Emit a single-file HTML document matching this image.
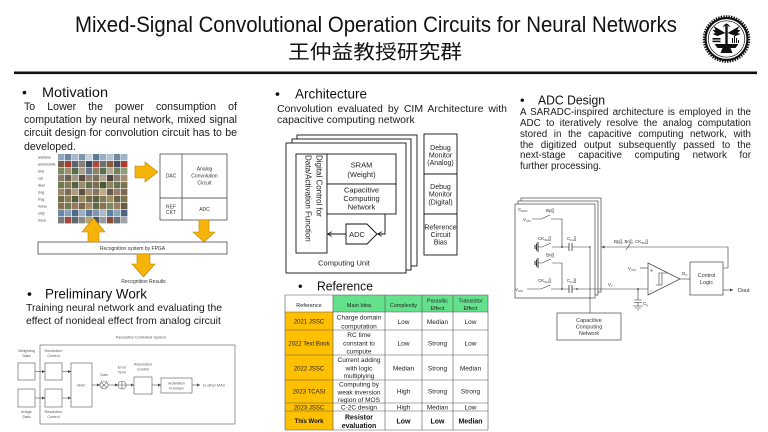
<!DOCTYPE html>
<html><head><meta charset="utf-8">
<style>
html,body{margin:0;padding:0;background:#fff;}
#c{position:relative;width:768px;height:432px;overflow:hidden;background:#fff;font-family:"Liberation Sans","Noto Sans CJK TC",sans-serif;color:#1a1a1a;}
svg{position:absolute;left:0;top:0;}
.p{position:absolute;}
.jl{text-align:justify;text-align-last:justify;}
</style></head>
<body><div id="c">
<svg width="768" height="432" viewBox="0 0 768 432" font-family="'Liberation Sans', sans-serif">
<defs>
<marker id="a" viewBox="0 0 6 6" refX="6" refY="3" markerWidth="3" markerHeight="3" orient="auto" markerUnits="userSpaceOnUse"><path d="M0,0 L6,3 L0,6 z" fill="#444"/></marker>
<marker id="o" viewBox="0 0 8 8" refX="7.5" refY="4" markerWidth="5" markerHeight="5" orient="auto" markerUnits="userSpaceOnUse"><path d="M0,0 L7.5,4 L0,8" fill="none" stroke="#111" stroke-width="1.2"/></marker>
</defs>

<!-- Title -->
<text x="75" y="32" font-size="22" fill="#111" textLength="602" lengthAdjust="spacingAndGlyphs">Mixed-Signal Convolutional Operation Circuits for Neural Networks</text>
<text x="288" y="58.5" font-size="19.5" fill="#111" font-family="'Noto Sans CJK TC', sans-serif" textLength="174" lengthAdjust="spacingAndGlyphs">王仲益教授研究群</text>
<rect x="14" y="71.5" width="743" height="2.6" fill="#111"/>

<!-- Logo -->
<g transform="translate(726.5,39)" fill="#111">
<circle r="22.8" fill="none" stroke="#111" stroke-width="2" stroke-dasharray="1.4 1.2"/>
<circle r="21" fill="none" stroke="#111" stroke-width="2.2"/>
<circle r="18.2" fill="none" stroke="#111" stroke-width="0.7"/>
<path d="M-12,5 H12 L9,9 H4 L6,14 H-6 L-4,9 H-9 Z"/>
<rect x="-1.2" y="-15" width="2.4" height="21"/>
<path d="M-1,-6 L-13,-13 L-11,-9 L-14,-9 L-11,-6 L-14,-5 L-9,-3 Z"/>
<path d="M1,-6 L13,-13 L11,-9 L14,-9 L11,-6 L14,-5 L9,-3 Z"/>
<rect x="-14" y="-1" width="8" height="1.6"/>
<rect x="-14" y="1.6" width="8" height="1.6"/>
<path d="M6,-1 V4 M8,-3 V4 M10,-1 V4 M12,1 V4" stroke="#111" stroke-width="1" fill="none"/>
<path d="M-3,-12 Q0,-18 3,-12" stroke="#111" stroke-width="1" fill="none"/>
</g>

<!-- Headings -->
<g fill="#111">
<text x="22" y="97" font-size="14">•</text>
<text x="42" y="97" font-size="14" textLength="66" lengthAdjust="spacingAndGlyphs">Motivation</text>
<text x="27" y="298.3" font-size="14">•</text>
<text x="45" y="298.3" font-size="14" textLength="102" lengthAdjust="spacingAndGlyphs">Preliminary Work</text>
<text x="275" y="98.3" font-size="14">•</text>
<text x="295" y="98.3" font-size="14" textLength="72" lengthAdjust="spacingAndGlyphs">Architecture</text>
<text x="298" y="290.7" font-size="13">•</text>
<text x="317" y="290.7" font-size="12.5" textLength="56" lengthAdjust="spacingAndGlyphs">Reference</text>
<text x="520" y="104.3" font-size="13">•</text>
<text x="538" y="104.3" font-size="12.5" textLength="67" lengthAdjust="spacingAndGlyphs">ADC Design</text>
</g>

<!-- Motivation diagram -->
<g font-size="3.6" fill="#444">
<text x="38" y="158.5">airplane</text>
<text x="38" y="165.5">automobile</text>
<text x="38" y="172.5">bird</text>
<text x="38" y="179.5">cat</text>
<text x="38" y="186.5">deer</text>
<text x="38" y="193.5">dog</text>
<text x="38" y="200.5">frog</text>
<text x="38" y="207.5">horse</text>
<text x="38" y="214.5">ship</text>
<text x="38" y="221.5">truck</text>
</g>
<g>
<rect x="58" y="154" width="6.4" height="6.4" fill="#8fa6bf"/><rect x="65" y="154" width="6.4" height="6.4" fill="#6d87a3"/><rect x="72" y="154" width="6.4" height="6.4" fill="#a9b9c9"/><rect x="79" y="154" width="6.4" height="6.4" fill="#7d95ad"/><rect x="86" y="154" width="6.4" height="6.4" fill="#c6d1db"/><rect x="93" y="154" width="6.4" height="6.4" fill="#5f7a96"/><rect x="100" y="154" width="6.4" height="6.4" fill="#98aec4"/><rect x="107" y="154" width="6.4" height="6.4" fill="#b5c3d0"/><rect x="114" y="154" width="6.4" height="6.4" fill="#7189a0"/><rect x="121" y="154" width="6.4" height="6.4" fill="#a0b4c8"/>
<rect x="58" y="161" width="6.4" height="6.4" fill="#7a5c4f"/><rect x="65" y="161" width="6.4" height="6.4" fill="#a33b30"/><rect x="72" y="161" width="6.4" height="6.4" fill="#5b6470"/><rect x="79" y="161" width="6.4" height="6.4" fill="#8a7f76"/><rect x="86" y="161" width="6.4" height="6.4" fill="#3e4a5a"/><rect x="93" y="161" width="6.4" height="6.4" fill="#b0463a"/><rect x="100" y="161" width="6.4" height="6.4" fill="#6f6f6f"/><rect x="107" y="161" width="6.4" height="6.4" fill="#8c5a3c"/><rect x="114" y="161" width="6.4" height="6.4" fill="#494f5c"/><rect x="121" y="161" width="6.4" height="6.4" fill="#b23a2f"/>
<rect x="58" y="168" width="6.4" height="6.4" fill="#7e8a5e"/><rect x="65" y="168" width="6.4" height="6.4" fill="#9a9172"/><rect x="72" y="168" width="6.4" height="6.4" fill="#5d6b4a"/><rect x="79" y="168" width="6.4" height="6.4" fill="#a7a08c"/><rect x="86" y="168" width="6.4" height="6.4" fill="#6a7a8c"/><rect x="93" y="168" width="6.4" height="6.4" fill="#8d8065"/><rect x="100" y="168" width="6.4" height="6.4" fill="#5b6f52"/><rect x="107" y="168" width="6.4" height="6.4" fill="#b2ab93"/><rect x="114" y="168" width="6.4" height="6.4" fill="#71805d"/><rect x="121" y="168" width="6.4" height="6.4" fill="#8e9c7a"/>
<rect x="58" y="175" width="6.4" height="6.4" fill="#8a7a68"/><rect x="65" y="175" width="6.4" height="6.4" fill="#6e6258"/><rect x="72" y="175" width="6.4" height="6.4" fill="#a49682"/><rect x="79" y="175" width="6.4" height="6.4" fill="#5a5048"/><rect x="86" y="175" width="6.4" height="6.4" fill="#917e6b"/><rect x="93" y="175" width="6.4" height="6.4" fill="#7b7060"/><rect x="100" y="175" width="6.4" height="6.4" fill="#b0a28e"/><rect x="107" y="175" width="6.4" height="6.4" fill="#4f463f"/><rect x="114" y="175" width="6.4" height="6.4" fill="#8a8070"/><rect x="121" y="175" width="6.4" height="6.4" fill="#a38d72"/>
<rect x="58" y="182" width="6.4" height="6.4" fill="#6e7a4e"/><rect x="65" y="182" width="6.4" height="6.4" fill="#8a7a58"/><rect x="72" y="182" width="6.4" height="6.4" fill="#55623f"/><rect x="79" y="182" width="6.4" height="6.4" fill="#9a8d6a"/><rect x="86" y="182" width="6.4" height="6.4" fill="#657049"/><rect x="93" y="182" width="6.4" height="6.4" fill="#7d6e50"/><rect x="100" y="182" width="6.4" height="6.4" fill="#4d5a38"/><rect x="107" y="182" width="6.4" height="6.4" fill="#8f8460"/><rect x="114" y="182" width="6.4" height="6.4" fill="#6a7550"/><rect x="121" y="182" width="6.4" height="6.4" fill="#7f7352"/>
<rect x="58" y="189" width="6.4" height="6.4" fill="#9a846a"/><rect x="65" y="189" width="6.4" height="6.4" fill="#7a6a58"/><rect x="72" y="189" width="6.4" height="6.4" fill="#b09a7e"/><rect x="79" y="189" width="6.4" height="6.4" fill="#5e5246"/><rect x="86" y="189" width="6.4" height="6.4" fill="#a48e72"/><rect x="93" y="189" width="6.4" height="6.4" fill="#857460"/><rect x="100" y="189" width="6.4" height="6.4" fill="#c0aa8a"/><rect x="107" y="189" width="6.4" height="6.4" fill="#6a5c4e"/><rect x="114" y="189" width="6.4" height="6.4" fill="#968068"/><rect x="121" y="189" width="6.4" height="6.4" fill="#7c6a56"/>
<rect x="58" y="196" width="6.4" height="6.4" fill="#6f6a48"/><rect x="65" y="196" width="6.4" height="6.4" fill="#8a7a52"/><rect x="72" y="196" width="6.4" height="6.4" fill="#5a5a3c"/><rect x="79" y="196" width="6.4" height="6.4" fill="#9a8a60"/><rect x="86" y="196" width="6.4" height="6.4" fill="#726a4a"/><rect x="93" y="196" width="6.4" height="6.4" fill="#5e6244"/><rect x="100" y="196" width="6.4" height="6.4" fill="#857a56"/><rect x="107" y="196" width="6.4" height="6.4" fill="#a0905e"/><rect x="114" y="196" width="6.4" height="6.4" fill="#6a6444"/><rect x="121" y="196" width="6.4" height="6.4" fill="#7e744e"/>
<rect x="58" y="203" width="6.4" height="6.4" fill="#8a6e50"/><rect x="65" y="203" width="6.4" height="6.4" fill="#6e7a52"/><rect x="72" y="203" width="6.4" height="6.4" fill="#9a7a5a"/><rect x="79" y="203" width="6.4" height="6.4" fill="#7a6a4a"/><rect x="86" y="203" width="6.4" height="6.4" fill="#a68a66"/><rect x="93" y="203" width="6.4" height="6.4" fill="#5e6a48"/><rect x="100" y="203" width="6.4" height="6.4" fill="#8e7252"/><rect x="107" y="203" width="6.4" height="6.4" fill="#7a8a5e"/><rect x="114" y="203" width="6.4" height="6.4" fill="#9c8060"/><rect x="121" y="203" width="6.4" height="6.4" fill="#6a5a42"/>
<rect x="58" y="210" width="6.4" height="6.4" fill="#6a86a8"/><rect x="65" y="210" width="6.4" height="6.4" fill="#8aa0b8"/><rect x="72" y="210" width="6.4" height="6.4" fill="#4e6a8a"/><rect x="79" y="210" width="6.4" height="6.4" fill="#9ab0c6"/><rect x="86" y="210" width="6.4" height="6.4" fill="#5a7898"/><rect x="93" y="210" width="6.4" height="6.4" fill="#7e96b0"/><rect x="100" y="210" width="6.4" height="6.4" fill="#a8bccc"/><rect x="107" y="210" width="6.4" height="6.4" fill="#62809e"/><rect x="114" y="210" width="6.4" height="6.4" fill="#8ca4bc"/><rect x="121" y="210" width="6.4" height="6.4" fill="#4a6482"/>
<rect x="58" y="217" width="6.4" height="6.4" fill="#7a7a7a"/><rect x="65" y="217" width="6.4" height="6.4" fill="#a04a3a"/><rect x="72" y="217" width="6.4" height="6.4" fill="#5e6670"/><rect x="79" y="217" width="6.4" height="6.4" fill="#8a8a84"/><rect x="86" y="217" width="6.4" height="6.4" fill="#b8a070"/><rect x="93" y="217" width="6.4" height="6.4" fill="#4e5660"/><rect x="100" y="217" width="6.4" height="6.4" fill="#9a9a96"/><rect x="107" y="217" width="6.4" height="6.4" fill="#8a4a38"/><rect x="114" y="217" width="6.4" height="6.4" fill="#6a7078"/><rect x="121" y="217" width="6.4" height="6.4" fill="#a0a4a8"/>
</g>
<g fill="none" stroke="#333" stroke-width="0.7">
<rect x="160" y="154" width="67" height="66"/>
<line x1="182" y1="154" x2="182" y2="220"/>
<line x1="160" y1="198" x2="227" y2="198"/>
<rect x="38" y="242" width="189" height="12"/>
</g>
<g font-size="5" fill="#333" text-anchor="middle">
<text x="171" y="177.7">DAC</text>
<text x="204.5" y="170.7">Analog</text>
<text x="204.5" y="177.5">Convolution</text>
<text x="204.5" y="184.5">Circuit</text>
<text x="171" y="208.3">REF</text>
<text x="171" y="213.8">CKT</text>
<text x="204.5" y="211">ADC</text>
<text x="132.5" y="250">Recognition system by FPGA</text>
<text x="143.5" y="283">Recognition Results</text>
</g>
<g fill="#f6b40a" stroke="#b98500" stroke-width="0.6">
<polygon points="135,166 145,166 145,162 158,172 145,182 145,178 135,178"/>
<polygon points="93.5,218 105,232 99,232 99,242 88,242 88,232 82,232"/>
<polygon points="199,220 209,220 209,232 215,232 204,242 193,232 199,232"/>
<polygon points="137,254 150,254 150,264 155,264 143.5,277 132,264 137,264"/>
</g>

<!-- Preliminary diagram -->
<g fill="none" stroke="#555" stroke-width="0.6">
<rect x="40" y="345" width="195" height="79"/>
<rect x="18" y="363" width="17" height="17"/>
<rect x="45" y="363" width="17" height="17"/>
<rect x="18" y="389" width="17" height="18"/>
<rect x="45" y="389" width="17" height="18"/>
<rect x="71" y="363" width="21" height="44"/>
<circle cx="104" cy="385" r="4"/>
<path d="M101.2,382.2 L106.8,387.8 M106.8,382.2 L101.2,387.8"/>
<circle cx="122" cy="385" r="4"/>
<path d="M118,385 H126 M122,381 V389"/>
<rect x="134" y="377" width="18" height="17"/>
<rect x="161" y="378" width="31" height="15"/>
<line x1="35" y1="371.5" x2="45" y2="371.5" marker-end="url(#a)"/>
<line x1="35" y1="398" x2="45" y2="398" marker-end="url(#a)"/>
<line x1="62" y1="371.5" x2="71" y2="371.5" marker-end="url(#a)"/>
<line x1="62" y1="398" x2="71" y2="398" marker-end="url(#a)"/>
<line x1="92" y1="385" x2="100" y2="385" marker-end="url(#a)"/>
<line x1="108" y1="385" x2="118" y2="385" marker-end="url(#a)"/>
<line x1="126" y1="385" x2="134" y2="385" marker-end="url(#a)"/>
<line x1="152" y1="385" x2="161" y2="385" marker-end="url(#a)"/>
<line x1="192" y1="385" x2="200" y2="385" marker-end="url(#a)"/>
</g>
<g font-size="3.8" fill="#555" text-anchor="middle">
<text x="141" y="338.5">Resolution Controlled System</text>
<text x="26.5" y="352">Weighting</text><text x="26.5" y="357">Data</text>
<text x="53.5" y="352">Resolution</text><text x="53.5" y="357">Control</text>
<text x="26.5" y="413">Image</text><text x="26.5" y="418">Data</text>
<text x="53.5" y="413">Resolution</text><text x="53.5" y="418">Control</text>
<text x="81.5" y="386.5">MAC</text>
<text x="104" y="376">Gain</text>
<text x="122" y="368.5">Error</text><text x="122" y="373.5">Term</text>
<text x="143" y="365.5">Resolution</text><text x="143" y="370.5">Control</text>
<text x="176.5" y="384.5">Activation</text><text x="176.5" y="389.5">Function</text>
<text x="203" y="386.5" text-anchor="start">to other MAC</text>
</g>

<!-- Architecture diagram -->
<g fill="#fff" stroke="#111" stroke-width="0.9">
<rect x="297" y="135" width="120" height="131"/>
<rect x="292" y="139" width="119" height="131"/>
<rect x="286" y="143" width="120" height="130"/>
<rect x="296" y="154" width="31" height="99"/>
<rect x="327" y="154" width="69" height="30"/>
<rect x="327" y="184" width="69" height="30"/>
<polygon points="346,224 367,224 377,234 367,244 346,244"/>
<rect x="424" y="134" width="33" height="40"/>
<rect x="424" y="174" width="33" height="40"/>
<rect x="424" y="214" width="33" height="41"/>
</g>
<g fill="none" stroke="#111" stroke-width="0.9">
<polyline points="385,214 385,234 377.5,234" marker-end="url(#o)"/>
<line x1="346" y1="234" x2="327.5" y2="234" marker-end="url(#o)"/>
</g>
<g font-size="7.5" fill="#222" text-anchor="middle">
<g transform="translate(311.5,203.5) rotate(90)" font-size="8" text-anchor="start">
<text x="-48.5" y="-5">Digital Control for</text>
<text x="-48.5" y="6">Data/Activation Function</text>
</g>
<text x="361.5" y="167.5">SRAM</text>
<text x="361.5" y="177">(Weight)</text>
<text x="361.5" y="192.5">Capacitive</text>
<text x="361.5" y="200.8">Computing</text>
<text x="361.5" y="209.5">Network</text>
<text x="357" y="236.8">ADC</text>
<text x="344" y="265.5">Computing Unit</text>
<g font-size="7">
<text x="440.5" y="150">Debug</text><text x="440.5" y="157.5">Monitor</text><text x="440.5" y="165">(Analog)</text>
<text x="440.5" y="189">Debug</text><text x="440.5" y="196.5">Monitor</text><text x="440.5" y="204.5">(Digital)</text>
<text x="440.5" y="229.5">Reference</text><text x="440.5" y="237">Circuit</text><text x="440.5" y="244.5">Bias</text>
</g>
</g>

<!-- Reference table -->
<rect x="285" y="295" width="48" height="17" fill="#fff"/>
<rect x="333" y="295" width="155" height="17" fill="#63e28b"/>
<rect x="285" y="312" width="48" height="118" fill="#ffc000"/>
<g stroke="#555" stroke-width="0.6">
<line x1="285" y1="295" x2="488" y2="295"/>
<line x1="285" y1="312" x2="488" y2="312"/>
<line x1="285" y1="330" x2="488" y2="330"/>
<line x1="285" y1="355" x2="488" y2="355"/>
<line x1="285" y1="380" x2="488" y2="380"/>
<line x1="285" y1="403" x2="488" y2="403"/>
<line x1="285" y1="411" x2="488" y2="411"/>
<line x1="285" y1="430" x2="488" y2="430"/>
<line x1="285" y1="295" x2="285" y2="430"/>
<line x1="333" y1="295" x2="333" y2="430"/>
<line x1="385" y1="295" x2="385" y2="430"/>
<line x1="422" y1="295" x2="422" y2="430"/>
<line x1="453" y1="295" x2="453" y2="430"/>
<line x1="488" y1="295" x2="488" y2="430"/>
</g>
<g text-anchor="middle" fill="#222">
<g font-size="5.5">
<text x="309" y="307">Reference</text>
<text x="359" y="307">Main Idea</text>
<text x="403.5" y="307">Complexity</text>
<text x="437.5" y="302.6">Parasitic</text><text x="437.5" y="310.2">Effect</text>
<text x="470.5" y="302.6">Transistor</text><text x="470.5" y="310.2">Effect</text>
</g>
<g font-size="6">
<text x="309" y="323.5">2021 JSSC</text>
<text x="309" y="345.5">2022 Text Book</text>
<text x="309" y="370.5">2022 JSSC</text>
<text x="309" y="393.3">2023 TCASI</text>
<text x="309" y="409.5">2023 JSSC</text>
</g>
<g font-size="6.5">
<text x="359" y="319.5">Charge domain</text><text x="359" y="328.3">computation</text>
<text x="403.5" y="324">Low</text><text x="437.5" y="324">Median</text><text x="470.5" y="324">Low</text>
<text x="359" y="337">RC time</text><text x="359" y="345.3">constant to</text><text x="359" y="353.3">cumpute</text>
<text x="403.5" y="345.5">Low</text><text x="437.5" y="345.5">Strong</text><text x="470.5" y="345.5">Low</text>
<text x="359" y="362">Current adding</text><text x="359" y="370.3">with logic</text><text x="359" y="378">multiplying</text>
<text x="403.5" y="370.5">Median</text><text x="437.5" y="370.5">Strong</text><text x="470.5" y="370.5">Median</text>
<text x="359" y="386.3">Computing by</text><text x="359" y="394.3">weak inversion</text><text x="359" y="402">region of MOS</text>
<text x="403.5" y="393.3">High</text><text x="437.5" y="393.3">Strong</text><text x="470.5" y="393.3">Strong</text>
<text x="359" y="409.5">C-2C design</text>
<text x="403.5" y="409.5">High</text><text x="437.5" y="409.5">Median</text><text x="470.5" y="409.5">Low</text>
</g>
<g font-weight="bold" fill="#111">
<text x="309" y="423" font-size="6">This Work</text>
<text x="359" y="419.3" font-size="7">Resistor</text><text x="359" y="427.8" font-size="7">evaluation</text>
<text x="403.5" y="423.5" font-size="7">Low</text><text x="437.5" y="423.5" font-size="7">Low</text><text x="470.5" y="423.5" font-size="7">Median</text>
</g>
</g>

<!-- ADC circuit -->
<g fill="#fff" stroke="#444" stroke-width="0.7">
<rect x="521" y="198" width="80" height="94"/>
<rect x="518" y="201" width="80" height="94"/>
<rect x="515" y="204" width="80" height="94"/>
<rect x="557" y="313" width="64" height="27"/>
<rect x="690" y="262" width="33" height="33"/>
<polygon points="648,263 648,295 680,279"/>
</g>
<g fill="none" stroke="#333" stroke-width="0.6">
<path d="M532,219 H541 L550,215 M551,219 H562 V247"/>
<path d="M538,242 V252 M536.5,243.5 V250.5 M535,245 V249" stroke-width="1"/>
<path d="M538,247 H542 L551,243 M552,247 H569 M572,247 H590 V313"/>
<path d="M569,243 V251 M572,243 V251" stroke-width="0.8"/>
<path d="M538,258 V268 M536.5,259.5 V266.5 M535,261 V265" stroke-width="1"/>
<path d="M538,263 H542 L551,259 M552,263 H562 V289"/>
<path d="M527,289 H541 L550,285 M551,289 H569 M572,289 H648"/>
<path d="M569,285 V293 M572,285 V293" stroke-width="0.8"/>
<path d="M723,268 H728 V247 H601.5" marker-end="url(#a)"/>
<path d="M626,250 L630,244"/>
<path d="M640,268 H648"/>
<path d="M680,279 H690"/>
<path d="M723,290 H733" marker-end="url(#a)"/>
<path d="M638,289 V300 M634,300 H642 M634,302.5 H642 M638,302.5 V306 M633,306 H643 M635,308 H641 M637,310 H639"/>
<path d="M656,285 H662 V273 H667 M659,285 V273 H664"/>
</g>
<g fill="#333">
<circle cx="562" cy="247" r="0.9"/>
<circle cx="562" cy="289" r="0.9"/>
<circle cx="577" cy="289" r="0.9"/>
<circle cx="638" cy="289" r="0.9"/>
<circle cx="590" cy="247" r="0.7"/>
</g>
<g font-size="4.5" fill="#333">
<text x="518" y="211">C<tspan font-size="3" dy="1">DAC</tspan></text>
<text x="523" y="221">V<tspan font-size="3" dy="1">CM</tspan></text>
<text x="546" y="212">Bp[]</text>
<text x="538" y="240">CK<tspan font-size="3" dy="1">SH</tspan><tspan dy="-1">[]</tspan></text>
<text x="567" y="240">C<tspan font-size="3" dy="1">pu</tspan><tspan dy="-1">[]</tspan></text>
<text x="546" y="256.5">Bn[]</text>
<text x="515" y="291">V<tspan font-size="3" dy="1">CM</tspan></text>
<text x="538" y="282">CK<tspan font-size="3" dy="1">SH</tspan><tspan dy="-1">[]</tspan></text>
<text x="567" y="282">C<tspan font-size="3" dy="1">pn</tspan><tspan dy="-1">[]</tspan></text>
<text x="608" y="286">V<tspan font-size="3" dy="1">x</tspan></text>
<text x="614" y="243">Bp[], Bn[], CK<tspan font-size="3" dy="1">SH</tspan><tspan dy="-1">[]</tspan></text>
<text x="628" y="270">V<tspan font-size="3" dy="1">CM</tspan></text>
<text x="650" y="272.5" font-size="5">+</text>
<text x="650.5" y="292" font-size="5">-</text>
<text x="682" y="275">D<tspan font-size="3" dy="1">C</tspan></text>
<text x="643" y="305">C<tspan font-size="3" dy="1">g</tspan></text>
<text x="738" y="292" font-size="5.5">Dout</text>
</g>
<g font-size="5.5" fill="#333" text-anchor="middle">
<text x="706.5" y="277">Control</text>
<text x="706.5" y="284">Logic</text>
<text x="589" y="322">Capacitive</text>
<text x="589" y="328.5">Computing</text>
<text x="589" y="335">Network</text>
</g>
</svg>

<!-- Paragraphs -->
<div class="p" style="left:24px;top:101.3px;width:213px;font-size:10.6px;line-height:13.1px;">
<div class="jl">To Lower the power consumption of</div>
<div class="jl">computation by neural network, mixed signal</div>
<div class="jl">circuit design for convolution circuit has to be</div>
<div>developed.</div>
</div>
<div class="p" style="left:26px;top:302px;width:200px;font-size:10.4px;line-height:13.3px;">
<div>Training neural network and evaluating the</div>
<div>effect of nonideal effect from analog circuit</div>
</div>
<div class="p" style="left:277px;top:104.2px;width:230px;font-size:10.5px;line-height:11px;">
<div class="jl">Convolution evaluated by CIM Architecture with</div>
<div>capacitive computing network</div>
</div>
<div class="p" style="left:520px;top:108.3px;width:231px;font-size:9.8px;line-height:10.8px;">
<div class="jl">A SARADC-inspired architecture is employed in the</div>
<div class="jl">ADC to iteratively resolve the analog computation</div>
<div class="jl">stored in the capacitive computing network, with</div>
<div class="jl">the digitized output subsequently passed to the</div>
<div class="jl">next-stage capacitive computing network for</div>
<div>further processing.</div>
</div>
</div></body></html>
